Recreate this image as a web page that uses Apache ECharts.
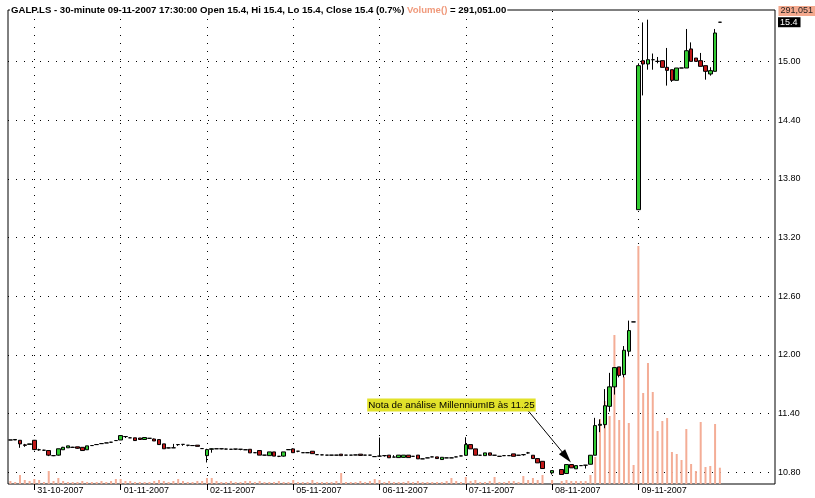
<!DOCTYPE html>
<html><head><meta charset="utf-8">
<script src="https://cdn.jsdelivr.net/npm/echarts@6/dist/echarts.min.js"></script>
<style>html,body{margin:0;padding:0;background:#fff}#c{width:815px;height:498px}</style>
</head><body><div id="c"></div>
<script>
const ticker = 'GALP.LS';
const period = '30-minute';
const days = ['30-10-2007','31-10-2007','01-11-2007','02-11-2007','05-11-2007','06-11-2007','07-11-2007','08-11-2007','09-11-2007'];
const barsPerDay = [5,18,18,18,18,18,18,18,18];
const priceTicks = [10.8,11.4,12.0,12.6,13.2,13.8,14.4,15.0];
const noteText = 'Nota de análise MillenniumIB às 11.25';
const padBars = 11;
// [open, close, low, high]
const prices = [
[11.13,11.13,11.13,11.13],[11.13,11.135,11.13,11.135],[11.127,11.09,11.05,11.127],[11.08,11.075,11.06,11.09],[11.085,11.09,11.085,11.09],
[11.127,11.032,11.025,11.13],[11.03,11.03,11.02,11.04],[11.025,11.025,11.02,11.03],[11.022,10.975,10.965,11.022],[10.97,10.97,10.965,10.975],
[10.975,11.04,10.97,11.04],[11.03,11.055,11.03,11.06],[11.05,11.07,11.05,11.07],[11.055,11.055,11.05,11.06],[11.06,11.045,11.04,11.06],
[11.055,11.022,11.02,11.055],[11.03,11.07,11.03,11.07],[11.073,11.073,11.07,11.075],[11.083,11.083,11.08,11.085],[11.093,11.093,11.09,11.095],
[11.1,11.1,11.1,11.1],[11.107,11.107,11.105,11.11],[11.124,11.124,11.12,11.125],
[11.13,11.175,11.13,11.175],[11.165,11.165,11.15,11.165],[11.152,11.152,11.15,11.155],[11.152,11.124,11.12,11.152],[11.15,11.135,11.135,11.15],
[11.135,11.155,11.135,11.155],[11.147,11.147,11.145,11.15],[11.14,11.12,11.12,11.145],[11.134,11.083,11.08,11.134],[11.09,11.04,11.04,11.09],
[11.049,11.049,11.045,11.05],[11.05,11.05,11.05,11.09],[11.083,11.083,11.07,11.083],[11.085,11.085,11.07,11.085],[11.076,11.076,11.065,11.076],
[11.073,11.073,11.07,11.075],[11.077,11.065,11.065,11.077],[11.042,11.042,11.04,11.045],
[10.97,11.032,10.9,11.04],[11.035,11.04,11.0,11.045],[11.04,11.04,11.04,11.04],[11.04,11.04,11.035,11.04],[11.037,11.037,11.035,11.04],
[11.035,11.035,11.035,11.037],[11.037,11.037,11.03,11.037],[11.035,11.035,11.025,11.035],[11.03,11.03,11.03,11.032],[11.035,10.998,10.998,11.035],
[11.0,11.0,10.998,11.002],[11.022,10.975,10.975,11.022],[10.975,10.975,10.972,10.975],[10.97,11.008,10.97,11.008],[11.008,10.965,10.965,11.008],
[10.963,10.963,10.955,10.965],[10.965,11.008,10.96,11.008],[11.03,11.032,11.03,11.035],
[11.039,11.0,11.0,11.045],[11.015,11.015,11.005,11.015],[11.0,11.0,11.0,11.0],[11.0,11.0,10.998,11.0],[11.015,10.99,10.99,11.015],
[10.98,10.98,10.98,10.98],[10.978,10.978,10.975,10.978],[10.975,10.975,10.975,10.975],[10.975,10.975,10.973,10.975],[10.975,10.975,10.975,10.977],
[10.985,10.97,10.97,10.985],[10.975,10.975,10.975,10.975],[10.975,10.975,10.973,10.975],[10.977,10.977,10.975,10.977],[10.985,10.972,10.97,10.985],
[10.975,10.975,10.975,10.975],[10.975,10.975,10.972,10.975],[10.96,10.96,10.96,10.96],
[10.965,10.965,10.96,11.155],[10.97,10.97,10.96,10.97],[10.975,10.948,10.948,10.975],[10.955,10.955,10.955,10.975],[10.95,10.975,10.95,10.975],
[10.952,10.975,10.95,10.975],[10.975,10.95,10.95,10.975],[10.963,10.963,10.96,10.963],[10.975,10.937,10.937,10.975],[10.937,10.937,10.935,10.937],
[10.947,10.947,10.945,10.947],[10.957,10.957,10.955,10.957],[10.957,10.94,10.94,10.957],[10.93,10.953,10.93,10.953],[10.947,10.947,10.945,10.947],
[10.947,10.947,10.947,10.95],[10.957,10.957,10.955,10.957],[10.967,10.967,10.965,10.967],
[10.973,11.083,10.97,11.158],[11.083,11.039,11.039,11.083],[11.039,10.974,10.974,11.039],[10.974,10.974,10.972,10.974],[10.97,10.998,10.97,10.998],
[10.998,10.974,10.974,10.998],[10.974,10.974,10.974,10.976],[10.963,10.963,10.963,10.965],[10.97,10.97,10.968,10.97],[10.97,10.97,10.97,10.97],
[10.988,10.963,10.963,10.988],[10.974,10.974,10.972,10.974],[10.98,10.98,10.97,10.98],[10.998,10.998,10.99,11.008],[10.974,10.94,10.94,10.974],
[10.94,10.896,10.896,10.94],[10.912,10.838,10.838,10.912],['-','-','-','-'],
[10.794,10.817,10.777,10.817],['-','-','-','-'],[10.828,10.777,10.777,10.828],[10.787,10.879,10.787,10.879],[10.879,10.845,10.845,10.879],
[10.835,10.868,10.835,10.868],[10.868,10.868,10.866,10.868],[10.872,10.872,10.838,10.872],[10.882,10.974,10.88,10.974],[10.974,11.277,10.974,11.356],
[11.28,11.29,11.21,11.34],[11.287,11.48,11.25,11.65],[11.474,11.673,11.42,11.816],[11.673,11.87,11.594,11.87],[11.877,11.79,11.77,11.877],
[11.798,12.047,11.77,12.09],[12.037,12.248,11.985,12.35],[12.337,12.337,12.337,12.337],
[13.484,14.956,13.484,14.98],[15.007,14.973,14.652,15.398],[14.973,15.017,14.915,15.426],[15.017,15.017,14.915,15.08],[15.0,15.0,14.98,15.045],
[15.007,14.939,14.939,15.007],[14.939,14.908,14.752,15.137],[14.915,14.806,14.79,14.915],[14.806,14.932,14.806,14.932],[14.932,14.932,14.932,14.932],
[14.932,15.109,14.932,15.331],[15.127,15.0,15.0,15.194],[15.034,15.0,15.0,15.034],[15.007,14.949,14.949,15.086],[14.956,14.898,14.813,14.956],
[14.871,14.905,14.854,14.94],[14.898,15.29,14.898,15.331],[15.4,15.4,15.4,15.4]
];
const volumes = [
53600,35700,160700,71400,53600,
89300,71400,35700,232100,53600,107100,53600,35700,35700,35700,53600,35700,35700,35700,53600,35700,53600,89300,
89300,53600,53600,35700,35700,35700,35700,53600,71400,53600,35700,53600,89300,53600,35700,35700,53600,53600,
107100,107100,53600,35700,35700,53600,35700,35700,53600,53600,35700,53600,35700,35700,35700,53600,35700,35700,
71400,35700,35700,35700,71400,35700,35700,35700,35700,53600,196400,35700,35700,35700,53600,35700,53600,89300,
71400,35700,53600,35700,35700,35700,53600,35700,53600,35700,35700,35700,35700,35700,53600,107100,53600,35700,
125000,53600,71400,35700,35700,53600,125000,35700,35700,53600,53600,35700,142800,71400,107100,71400,160700,'-',
71400,'-',53600,71400,53600,53600,53600,53600,160700,482100,1160600,1482000,1214200,2660500,1142800,1910600,1089200,339300,
4249700,1624900,2160600,1642800,946400,1125000,1178500,571400,535700,428500,982100,357100,232100,1107100,303600,321400,1071400,291051
];

// categories (date + time of each 30-minute bar, last bar of each day at 17:30)
const cats = [];
const dayStartIdx = [];
days.forEach((d, di) => {
  const n = barsPerDay[di];
  dayStartIdx.push(cats.length);
  for (let k = 0; k < n; k++) {
    const mins = 17 * 60 + 30 - (n - 1 - k) * 30;
    const t = String(Math.floor(mins / 60)).padStart(2, '0') + ':' + String(mins % 60).padStart(2, '0');
    cats.push(d + ' ' + t);
  }
});
for (let i = 0; i < padBars; i++) cats.push('pad' + i);
const dayStartSet = new Set(dayStartIdx.slice(1));
const last = prices[prices.length - 1];
const prevClose = prices[prices.length - 2][1];
const pct = ((last[1] - prevClose) / prevClose * 100).toFixed(1);
const lastVol = volumes[volumes.length - 1];
const fmtVol = v => v.toLocaleString('en-US');
const lastCat = cats[prices.length - 1];
const headerA = ticker + ' - ' + period + ' ' + lastCat + ':00 Open ' + last[0] + ', Hi ' + last[3] + ', Lo ' + last[2] + ', Close ' + last[1] + ' (' + pct + '%) ';
const headerB = 'Volume()';
const headerC = ' = ' + fmtVol(lastVol) + '.00';

const FONT = 'Liberation Sans';
const chart = echarts.init(document.getElementById('c'), null, {renderer: 'canvas'});
chart.setOption({
  animation: false,
  backgroundColor: '#fff',
  textStyle: {fontFamily: FONT},
  title: [{
    text: '{a|' + headerA + '}{b|' + headerB + '}{a|' + headerC + '}',
    left: 10, top: 4, padding: [0, 1], backgroundColor: '#fff',
    textStyle: {rich: {
      a: {color: '#000', fontSize: 9.6, fontFamily: FONT, lineHeight: 12},
      b: {color: '#f09a7c', fontSize: 9.6, fontFamily: FONT, lineHeight: 12}
    }}
  }, {
    text: fmtVol(lastVol),
    right: 0, top: 6, padding: [0, 2], backgroundColor: '#f4a98e',
    textStyle: {color: '#222', fontSize: 9, fontWeight: 'normal', fontFamily: FONT, lineHeight: 10}
  }],
  grid: {left: 8, right: 40, top: 10, bottom: 14, show: true, borderColor: '#000', borderWidth: 1, backgroundColor: '#fff'},
  xAxis: {
    type: 'category', data: cats, boundaryGap: true,
    axisLine: {show: false},
    axisTick: {show: true, alignWithLabel: true, length: 6, interval: (i) => dayStartSet.has(i), lineStyle: {color: '#000'}},
    axisLabel: {interval: (i) => dayStartSet.has(i), formatter: v => v.split(' ')[0], align: 'left', padding: [0, 0, 0, 3], margin: 2,
      fontSize: 9, fontFamily: FONT, color: '#000'},
    splitLine: {show: false}
  },
  yAxis: [{
    type: 'value', position: 'right', min: 10.68, max: 15.525, scale: true,
    axisLine: {show: false}, axisTick: {show: false}, splitLine: {show: false},
    axisLabel: {customValues: priceTicks, formatter: v => v.toFixed(2), margin: 3, fontSize: 9, fontFamily: FONT, color: '#000'}
  }, {
    type: 'value', min: 0, max: 8464000, show: false, splitLine: {show: false}
  }],
  series: [{
    type: 'line', data: [], yAxisIndex: 0, silent: true,
    markLine: {
      silent: true, symbol: ['none', 'none'], z: 0, label: {show: false},
      lineStyle: {type: [1, 7], color: '#000', width: 1},
      emphasis: {disabled: true},
      data: priceTicks.map(v => ({yAxis: v})).concat(dayStartIdx.slice(1).map(i => ({xAxis: cats[i]})))
    }
  }, {
    type: 'bar', data: volumes, yAxisIndex: 1, barWidth: 2, z: 1, silent: true,
    itemStyle: {color: '#f4ad96'}
  }, {
    type: 'candlestick', data: prices, yAxisIndex: 0, barWidth: 4, z: 3,
    itemStyle: {color: '#33cc33', color0: '#c01818', borderColor: '#000', borderColor0: '#000', borderColorDoji: '#000', borderWidth: 1},
    markLine: {
      silent: true, symbol: ['none', 'none'], z: 6,
      emphasis: {disabled: true},
      data: [
        {yAxis: last[1], lineStyle: {color: 'rgba(0,0,0,0)', width: 0}, label: {show: true, position: 'end', formatter: String(last[1]), backgroundColor: '#000', color: '#fff', padding: [1, 3, 0, 2], distance: 3, fontSize: 9, fontFamily: FONT}},
        [{coord: [108, 11.43], symbol: 'none', lineStyle: {color: '#000', width: 1, type: 'solid'}, label: {show: false}},
         {coord: [116, 10.955], symbol: 'triangle', symbolSize: [8, 14]}]
      ]
    },
    markPoint: {
      silent: true, z: 6,
      data: [{coord: [92, 11.487], symbol: 'rect', symbolSize: 1, itemStyle: {color: 'rgba(0,0,0,0)'},
        label: {show: true, position: 'inside', formatter: noteText, backgroundColor: '#e2e22a', color: '#000', padding: [2, 1, 1, 1], fontSize: 9.8, fontFamily: FONT}}]
    }
  }]
});
</script></body></html>
